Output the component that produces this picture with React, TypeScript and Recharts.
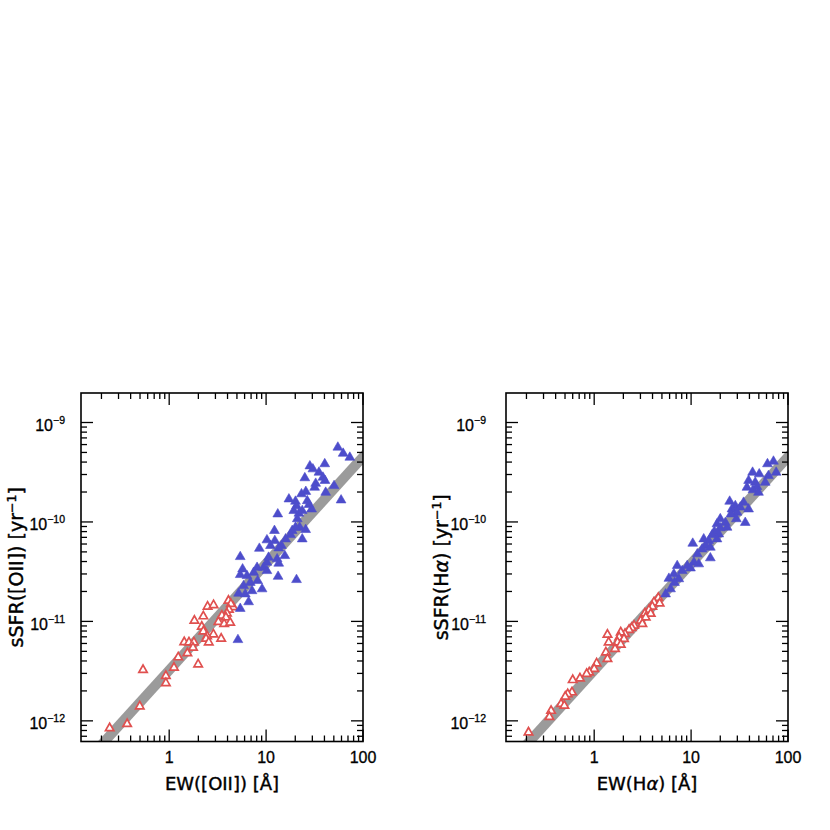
import React from 'react';
import { ScatterChart, Scatter, XAxis, YAxis } from 'recharts';

// ---------- axis definitions ----------
const X_DOMAIN = [0.123, 100];
const Y_DOMAIN = [6.2e-13, 1.98e-9];
const X_MAJOR = [1, 10, 100];
const X_MINOR = [0.2, 0.3, 0.4, 0.5, 0.6, 0.7, 0.8, 0.9, 2, 3, 4, 5, 6, 7, 8, 9, 20, 30, 40, 50, 60, 70, 80, 90];
const Y_MAJOR = [1e-12, 1e-11, 1e-10, 1e-9];
const Y_MINOR = [
  7e-13, 8e-13, 9e-13,
  2e-12, 3e-12, 4e-12, 5e-12, 6e-12, 7e-12, 8e-12, 9e-12,
  2e-11, 3e-11, 4e-11, 5e-11, 6e-11, 7e-11, 8e-11, 9e-11,
  2e-10, 3e-10, 4e-10, 5e-10, 6e-10, 7e-10, 8e-10, 9e-10,
];

// ---------- gray relation band (two end points) ----------
const FIT_EW = [0.1, 150];
const FIT_SSFR = [2.73e-13, 6.97e-10];

// ---------- left panel: [OII] ----------
const OII_STARFORMING: [number, number][] = [
  [55.0, 5.77e-10], [62.4, 5.01e-10], [73.1, 4.57e-10], [40.3, 3.93e-10], [28.3, 3.74e-10], [30.4, 3.49e-10],
  [35.1, 3.23e-10], [25.1, 2.84e-10], [38.6, 2.88e-10], [40.5, 2.67e-10], [32.5, 2.50e-10], [31.7, 2.28e-10],
  [50.3, 2.37e-10], [41.2, 2.03e-10], [25.7, 2.07e-10], [23.2, 1.96e-10], [17.2, 1.74e-10], [26.6, 1.67e-10],
  [20.1, 1.65e-10], [20.6, 1.49e-10], [27.7, 1.53e-10], [29.5, 1.38e-10], [59.4, 1.70e-10], [13.2, 1.23e-10],
  [19.3, 1.33e-10], [21.8, 1.25e-10], [23.6, 1.33e-10], [21.0, 1.10e-10], [22.2, 9.04e-11], [20.1, 9.04e-11],
  [18.6, 8.38e-11], [25.6, 8.57e-11], [12.2, 8.38e-11], [17.9, 7.62e-11], [23.6, 6.90e-11], [10.2, 6.75e-11],
  [12.3, 6.64e-11], [15.9, 6.90e-11], [11.1, 5.92e-11], [14.4, 5.92e-11], [8.52, 5.55e-11], [13.5, 5.60e-11],
  [5.41, 4.58e-11], [15.6, 4.69e-11], [10.6, 4.51e-11], [13.0, 4.35e-11], [10.2, 4.02e-11], [13.5, 3.93e-11],
  [5.72, 3.44e-11], [8.07, 3.57e-11], [9.44, 3.57e-11], [5.41, 3.02e-11], [6.35, 2.95e-11], [7.44, 3.18e-11],
  [10.2, 3.31e-11], [13.3, 2.90e-11], [20.6, 2.69e-11], [8.18, 2.63e-11], [6.87, 2.52e-11], [9.09, 2.17e-11],
  [5.86, 2.34e-11], [5.20, 1.96e-11], [6.10, 1.93e-11], [7.16, 2.08e-11], [6.60, 1.61e-11], [5.41, 1.38e-11],
  [5.12, 6.70e-12],
];
const OII_PASSIVE: [number, number][] = [
  [4.09, 1.65e-11], [2.49, 1.44e-11], [2.87, 1.49e-11], [4.58, 1.42e-11], [4.33, 1.53e-11], [4.13, 1.34e-11],
  [3.94, 1.23e-11], [3.50, 1.17e-11], [3.85, 1.12e-11], [2.25, 1.15e-11], [1.82, 1.04e-11], [3.22, 1.01e-11],
  [3.69, 9.64e-12], [4.26, 9.93e-12], [2.17, 9.05e-12], [2.25, 8.11e-12], [2.86, 7.57e-12], [2.46, 7.26e-12],
  [2.40, 6.85e-12], [2.56, 6.29e-12], [3.44, 6.85e-12], [1.43, 6.32e-12], [1.60, 6.29e-12], [1.80, 6.29e-12],
  [1.76, 5.56e-12], [1.54, 4.90e-12], [1.24, 4.45e-12], [1.99, 3.78e-12], [1.12, 3.50e-12], [0.537, 3.32e-12],
  [0.924, 2.89e-12], [0.924, 2.45e-12], [0.497, 1.43e-12], [0.368, 9.50e-13], [0.243, 8.63e-13],
];

// ---------- right panel: Halpha ----------
const HA_STARFORMING: [number, number][] = [
  [70.8, 4.17e-10], [61.4, 3.93e-10], [75.5, 3.23e-10], [43.1, 3.23e-10], [50.5, 3.11e-10], [62.9, 2.99e-10],
  [39.2, 2.67e-10], [45.9, 2.56e-10], [58.2, 2.56e-10], [47.8, 2.32e-10], [37.7, 2.28e-10], [43.5, 2.15e-10],
  [49.6, 2.03e-10], [25.0, 1.65e-10], [34.8, 1.61e-10], [28.6, 1.49e-10], [26.4, 1.38e-10], [32.2, 1.44e-10],
  [39.2, 1.38e-10], [29.8, 1.28e-10], [25.8, 1.23e-10], [29.3, 1.10e-10], [20.0, 1.10e-10], [22.6, 1.01e-10],
  [36.2, 1.01e-10], [18.5, 9.77e-11], [23.5, 9.04e-11], [20.0, 8.91e-11], [17.4, 8.22e-11], [19.3, 7.74e-11],
  [16.5, 7.62e-11], [13.5, 6.90e-11], [15.2, 6.64e-11], [18.5, 6.90e-11], [10.4, 6.24e-11], [14.1, 5.92e-11],
  [15.8, 5.69e-11], [13.0, 5.47e-11], [11.6, 4.88e-11], [15.8, 4.45e-11], [10.7, 4.02e-11], [12.0, 3.87e-11],
  [7.19, 3.72e-11], [9.12, 3.72e-11], [8.10, 3.31e-11], [9.86, 3.52e-11], [6.64, 3.07e-11], [5.90, 2.77e-11],
  [7.47, 2.74e-11], [6.75, 2.52e-11], [6.14, 2.17e-11], [5.46, 1.93e-11],
];
const HA_PASSIVE: [number, number][] = [
  [4.59, 1.76e-11], [4.14, 1.59e-11], [4.73, 1.55e-11], [3.98, 1.44e-11], [3.67, 1.33e-11], [3.34, 1.23e-11],
  [3.83, 1.22e-11], [3.40, 1.12e-11], [3.02, 1.04e-11], [3.14, 9.64e-12], [2.58, 9.27e-12], [2.44, 8.79e-12],
  [2.29, 8.39e-12], [2.08, 7.64e-12], [1.88, 7.93e-12], [1.81, 7.06e-12], [2.03, 6.81e-12], [1.74, 6.29e-12],
  [1.88, 5.97e-12], [1.37, 7.52e-12], [1.41, 6.29e-12], [1.64, 5.40e-12], [1.32, 4.99e-12], [1.37, 4.29e-12],
  [1.06, 3.87e-12], [1.00, 3.40e-12], [0.889, 3.14e-12], [0.836, 3.03e-12], [0.713, 2.73e-12], [0.600, 2.63e-12],
  [0.590, 1.98e-12], [0.533, 1.90e-12], [0.503, 1.79e-12], [0.455, 1.51e-12], [0.492, 1.45e-12], [0.359, 1.29e-12],
  [0.345, 1.12e-12], [0.210, 7.82e-13],
];

// ---------- styles ----------
const BLUE = '#4d4dcb';
const RED = '#e0504f';
const BAND = '#9b9b9b';
const TICK_FONT = '"Liberation Sans", Arial, sans-serif';
const TITLE_FONT = '"DejaVu Sans", sans-serif';

const X_TICKS = [...X_MINOR, ...X_MAJOR].sort((a, b) => a - b);
const Y_TICKS = [...Y_MINOR, ...Y_MAJOR].sort((a, b) => a - b);
const isMajor = (v: number, majors: number[]) => majors.some((m) => Math.abs(m - v) / m < 1e-6);

const W = 380;
const H = 420;
const AXIS_T = 1; // axis band thickness (must be > 0 for Recharts to draw ticks)
const M = { top: 13, right: 17, bottom: 58.5 - AXIS_T, left: 81 - AXIS_T };
const PLOT_TOP = M.top;
const PLOT_BOTTOM = H - M.bottom - AXIS_T;
const PLOT_LEFT = M.left + AXIS_T;
const PLOT_RIGHT = W - M.right;
const MAJ = 12;
const MIN = 6;

const toPts = (arr: [number, number][]) => arr.map(([x, y]) => ({ x, y }));
const FIT_PTS = FIT_EW.map((x, i) => ({ x, y: FIT_SSFR[i] }));

const FilledTri = (p: any) => {
  const { cx, cy } = p;
  if (cx == null || cy == null) return <g />;
  return <polygon points={`${cx},${cy - 4.5} ${cx - 4.9},${cy + 3.9} ${cx + 4.9},${cy + 3.9}`} fill={BLUE} stroke={BLUE} strokeWidth={0.6} />;
};
const OpenTri = (p: any) => {
  const { cx, cy } = p;
  if (cx == null || cy == null) return <g />;
  return <polygon points={`${cx},${cy - 4} ${cx - 4.2},${cy + 3.4} ${cx + 4.2},${cy + 3.4}`} fill="#ffffff" stroke={RED} strokeWidth={1.7} />;
};
const Nothing = () => <g />;

const renderXTick = (p: any) => {
  const { x, y, payload } = p;
  const v = payload.value;
  const major = isMajor(v, X_MAJOR);
  const len = major ? MAJ : MIN;
  return (
    <g>
      <line x1={x} x2={x} y1={y} y2={y - len} stroke="#000" strokeWidth={1.3} />
      <line x1={x} x2={x} y1={PLOT_TOP} y2={PLOT_TOP + len} stroke="#000" strokeWidth={1.3} />
      {major && (
        <text x={x} y={y + 21.5} textAnchor="middle" fontFamily={TICK_FONT} fontSize={16} fill="#000" stroke="#000" strokeWidth={0.3}>
          {String(v)}
        </text>
      )}
    </g>
  );
};

const makeYTick = (gap: number) => (p: any) => {
  const { x, y, payload } = p;
  const v = payload.value;
  const major = isMajor(v, Y_MAJOR);
  const len = major ? MAJ : MIN;
  const exp = Math.round(Math.log10(v));
  return (
    <g>
      <line x1={x} x2={x + len} y1={y} y2={y} stroke="#000" strokeWidth={1.3} />
      <line x1={PLOT_RIGHT} x2={PLOT_RIGHT - len} y1={y} y2={y} stroke="#000" strokeWidth={1.3} />
      {major && (
        <text x={x - gap} y={y + 8.2} textAnchor="end" fontFamily={TICK_FONT} fontSize={16} fill="#000" stroke="#000" strokeWidth={0.3}>
          <tspan>10</tspan>
          <tspan fontSize={10.5} dy={-7}>{`\u2212${Math.abs(exp)}`}</tspan>
        </text>
      )}
    </g>
  );
};

function Panel(props: {
  left: number;
  sf: [number, number][];
  passive: [number, number][];
  xTitle: React.ReactNode;
  yTitle: React.ReactNode;
  gap: number;
}) {
  const { left, sf, passive, xTitle, yTitle, gap } = props;
  const cx = (PLOT_LEFT + PLOT_RIGHT) / 2;
  const cy = (PLOT_TOP + PLOT_BOTTOM) / 2;
  return (
    <div style={{ position: 'absolute', left, top: 380, width: W, height: H }}>
      <ScatterChart width={W} height={H} margin={M}>
        <XAxis
          type="number"
          dataKey="x"
          scale="log"
          domain={X_DOMAIN}
          allowDataOverflow
          ticks={X_TICKS}
          interval={0}
          tickLine={false}
          axisLine={false}
          tickSize={0}
          tickMargin={0}
          height={AXIS_T}
          tick={renderXTick}
        />
        <YAxis
          type="number"
          dataKey="y"
          scale="log"
          domain={Y_DOMAIN}
          allowDataOverflow
          ticks={Y_TICKS}
          interval={0}
          tickLine={false}
          axisLine={false}
          tickSize={0}
          tickMargin={0}
          width={AXIS_T}
          tick={makeYTick(gap)}
        />
        <Scatter data={FIT_PTS} line={{ stroke: BAND, strokeWidth: 10 }} lineType="joint" shape={Nothing} isAnimationActive={false} />
        <Scatter data={toPts(passive)} shape={OpenTri} isAnimationActive={false} />
        <Scatter data={toPts(sf)} shape={FilledTri} isAnimationActive={false} />
      </ScatterChart>
      <svg width={W} height={H} style={{ position: 'absolute', left: 0, top: 0, pointerEvents: 'none' }}>
        <rect x={PLOT_LEFT} y={PLOT_TOP} width={PLOT_RIGHT - PLOT_LEFT} height={PLOT_BOTTOM - PLOT_TOP} fill="none" stroke="#000" strokeWidth={1.6} />
        <text x={cx} y={PLOT_BOTTOM + 48} textAnchor="middle" fontFamily={TITLE_FONT} fontSize={18} fill="#000" stroke="#000" strokeWidth={0.4}>
          {xTitle}
        </text>
        <text x={22.5} y={cy} transform={`rotate(-90 22.5 ${cy})`} textAnchor="middle" fontFamily={TITLE_FONT} fontSize={19} fill="#000" stroke="#000" strokeWidth={0.4}>
          {yTitle}
        </text>
      </svg>
    </div>
  );
}

export default function App() {
  return (
    <div style={{ position: 'absolute', left: 0, top: 0, width: 830, height: 830, background: '#fff' }}>
      <Panel
        left={0}
        sf={OII_STARFORMING}
        passive={OII_PASSIVE}
        gap={16}
        xTitle={<>EW([OII]) [Å]</>}
        yTitle={
          <>
            sSFR([OII]) [yr<tspan fontSize={12.5} dy={-7}>{'\u22121'}</tspan>
            <tspan dy={7}>]</tspan>
          </>
        }
      />
      <Panel
        left={424.7}
        sf={HA_STARFORMING}
        passive={HA_PASSIVE}
        gap={20}
        xTitle={
          <>
            EW(H<tspan fontStyle="italic">α</tspan>) [Å]
          </>
        }
        yTitle={
          <>
            sSFR(H<tspan fontStyle="italic">α</tspan>) [yr<tspan fontSize={12.5} dy={-7}>{'\u22121'}</tspan>
            <tspan dy={7}>]</tspan>
          </>
        }
      />
    </div>
  );
}
